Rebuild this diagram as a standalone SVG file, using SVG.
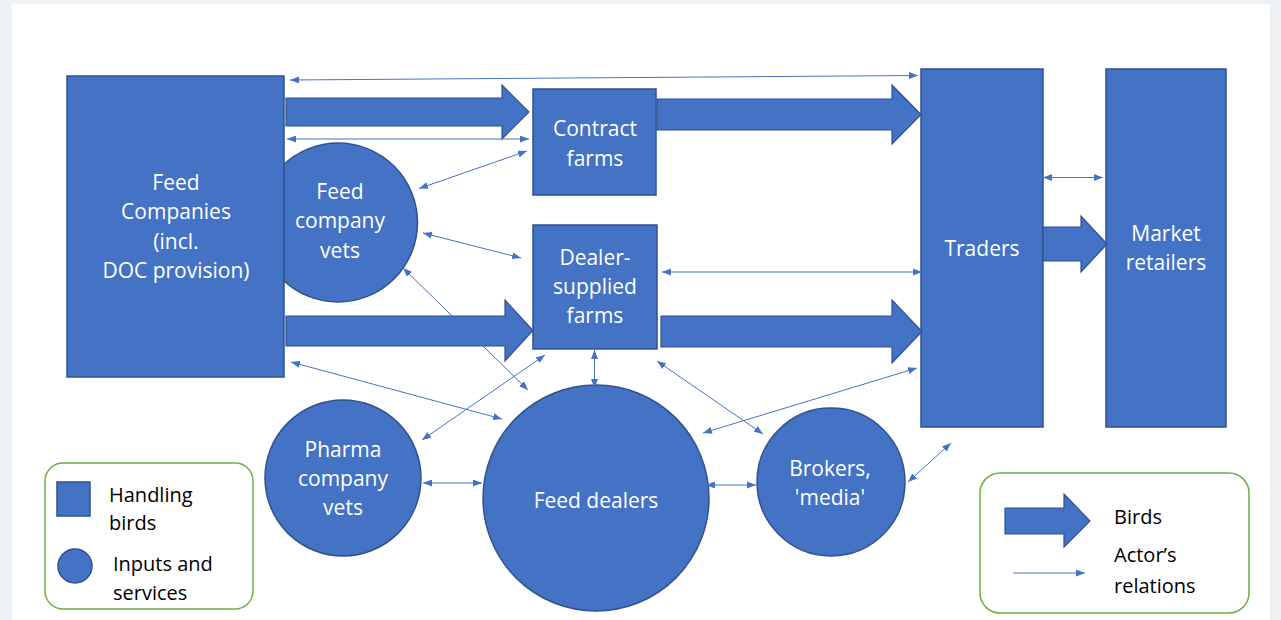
<svg xmlns="http://www.w3.org/2000/svg" width="1281" height="620" viewBox="0 0 1281 620">
<style>
.node{fill:#4472c4;stroke:#2f528f;stroke-width:1.5}
.flow{fill:#4472c4;stroke:#2f528f;stroke-width:1.2}
.rel{fill:none;stroke:#4472c4;stroke-width:1;marker-start:url(#ah);marker-end:url(#ah)}
.lbl{font-family:"Open Sans","Noto Sans",sans-serif;font-size:21px;fill:#ffffff;text-anchor:middle}
.leg{font-family:"Open Sans","Noto Sans",sans-serif;font-size:20px;fill:#000000}
.legbox{fill:#ffffff;stroke:#70ad47;stroke-width:1.5}
</style>
<defs>
<marker id="ah" viewBox="0 0 9 7" refX="9" refY="3.5" markerWidth="9" markerHeight="7" markerUnits="userSpaceOnUse" orient="auto-start-reverse">
<path d="M0,0 L9,3.5 L0,7 z" fill="#4472c4"/>
</marker>
<marker id="ahe" viewBox="0 0 9 7" refX="9" refY="3.5" markerWidth="9" markerHeight="7" markerUnits="userSpaceOnUse" orient="auto">
<path d="M0,0 L9,3.5 L0,7 z" fill="#4472c4"/>
</marker>
</defs>
<rect x="0" y="0" width="1281" height="620" fill="#eef2f5"/>
<rect x="12" y="4" width="1258" height="616" fill="#ffffff"/>

<g id="feed-company-vets">
<circle class="node" cx="338" cy="222.5" r="79.5"/>
<text class="lbl" x="340" y="199">Feed</text>
<text class="lbl" x="340" y="228">company</text>
<text class="lbl" x="340" y="258">vets</text>
</g>
<g id="feed-companies">
<rect class="node" x="67" y="76" width="217" height="301"/>
<text class="lbl" x="176" y="190">Feed</text>
<text class="lbl" x="176" y="219">Companies</text>
<text class="lbl" x="176" y="249">(incl.</text>
<text class="lbl" x="176" y="278">DOC provision)</text>
</g>
<g id="contract-farms">
<rect class="node" x="533" y="89" width="123" height="106"/>
<text class="lbl" x="595" y="136">Contract</text>
<text class="lbl" x="595" y="166">farms</text>
</g>
<g id="dealer-supplied-farms">
<rect class="node" x="533" y="225" width="124" height="124"/>
<text class="lbl" x="595" y="265">Dealer-</text>
<text class="lbl" x="595" y="294">supplied</text>
<text class="lbl" x="595" y="323">farms</text>
</g>
<g id="traders">
<rect class="node" x="921" y="69" width="122" height="358"/>
<text class="lbl" x="982" y="256">Traders</text>
</g>
<g id="market-retailers">
<rect class="node" x="1106" y="69" width="120" height="358"/>
<text class="lbl" x="1166" y="241">Market</text>
<text class="lbl" x="1166" y="270">retailers</text>
</g>
<g id="pharma-company-vets">
<circle class="node" cx="343" cy="478" r="78"/>
<text class="lbl" x="343" y="457">Pharma</text>
<text class="lbl" x="343" y="486">company</text>
<text class="lbl" x="343" y="515">vets</text>
</g>
<g id="feed-dealers">
<circle class="node" cx="596" cy="498" r="113"/>
<text class="lbl" x="596" y="508">Feed dealers</text>
</g>
<g id="brokers-media">
<circle class="node" cx="831" cy="482" r="74"/>
<text class="lbl" x="830" y="476">Brokers,</text>
<text class="lbl" x="830" y="505">'media'</text>
</g>

<g id="connectors">
<g id="bird-flows">
<path class="flow" d="M286,98 H502 V85 L529,112 L502,139 V126 H286 Z"/>
<path class="flow" d="M286,316 H505 V300 L533,330.5 L505,361 V346 H286 Z"/>
<path class="flow" d="M657,99 H892 V85 L921,114.5 L892,144 V130 H657 Z"/>
<path class="flow" d="M661,316 H892 V300 L922,331.5 L892,363 V347 H661 Z"/>
<path class="flow" d="M1043,227 H1081 V216 L1107,244 L1081,272 V261 H1043 Z"/>
</g>
<g id="actor-relations">
<line class="rel" x1="290" y1="80" x2="918" y2="75.5"/>
<line class="rel" x1="287" y1="139" x2="529" y2="139"/>
<line class="rel" x1="419" y1="188.5" x2="527" y2="151"/>
<line class="rel" x1="423" y1="233" x2="521" y2="258"/>
<line class="rel" x1="403" y1="268" x2="528" y2="390"/>
<line class="rel" x1="291" y1="362" x2="502" y2="419"/>
<line class="rel" x1="422" y1="440" x2="545" y2="355"/>
<line class="rel" x1="594.5" y1="350" x2="594.5" y2="388"/>
<line class="rel" x1="657" y1="361" x2="763" y2="434"/>
<line class="rel" x1="662" y1="272" x2="922" y2="272"/>
<line class="rel" x1="703" y1="433" x2="917" y2="368"/>
<line class="rel" x1="423" y1="483" x2="482" y2="483"/>
<line class="rel" x1="706" y1="485" x2="756" y2="485"/>
<line class="rel" x1="908" y1="482" x2="951" y2="443"/>
<line class="rel" x1="1043" y1="177.5" x2="1103" y2="177.5"/>
</g>
</g>

<g id="legend-nodes">
<rect class="legbox" x="45" y="463" width="208" height="146" rx="18"/>
<rect class="node" x="57" y="482" width="33" height="34"/>
<text class="leg" x="109" y="502">Handling</text>
<text class="leg" x="109" y="530">birds</text>
<circle class="node" cx="75" cy="566" r="17"/>
<text class="leg" x="113" y="571">Inputs and</text>
<text class="leg" x="113" y="600">services</text>
</g>
<g id="legend-links">
<rect class="legbox" x="980" y="473" width="269" height="140" rx="20"/>
<path class="flow" d="M1005,508 H1064 V494 L1090,521 L1064,547 V534 H1005 Z"/>
<text class="leg" x="1114" y="524">Birds</text>
<line x1="1013" y1="573" x2="1085" y2="573" stroke="#4472c4" stroke-width="1" marker-end="url(#ahe)"/>
<text class="leg" x="1114" y="562">Actor’s</text>
<text class="leg" x="1114" y="593">relations</text>
</g>
</svg>
